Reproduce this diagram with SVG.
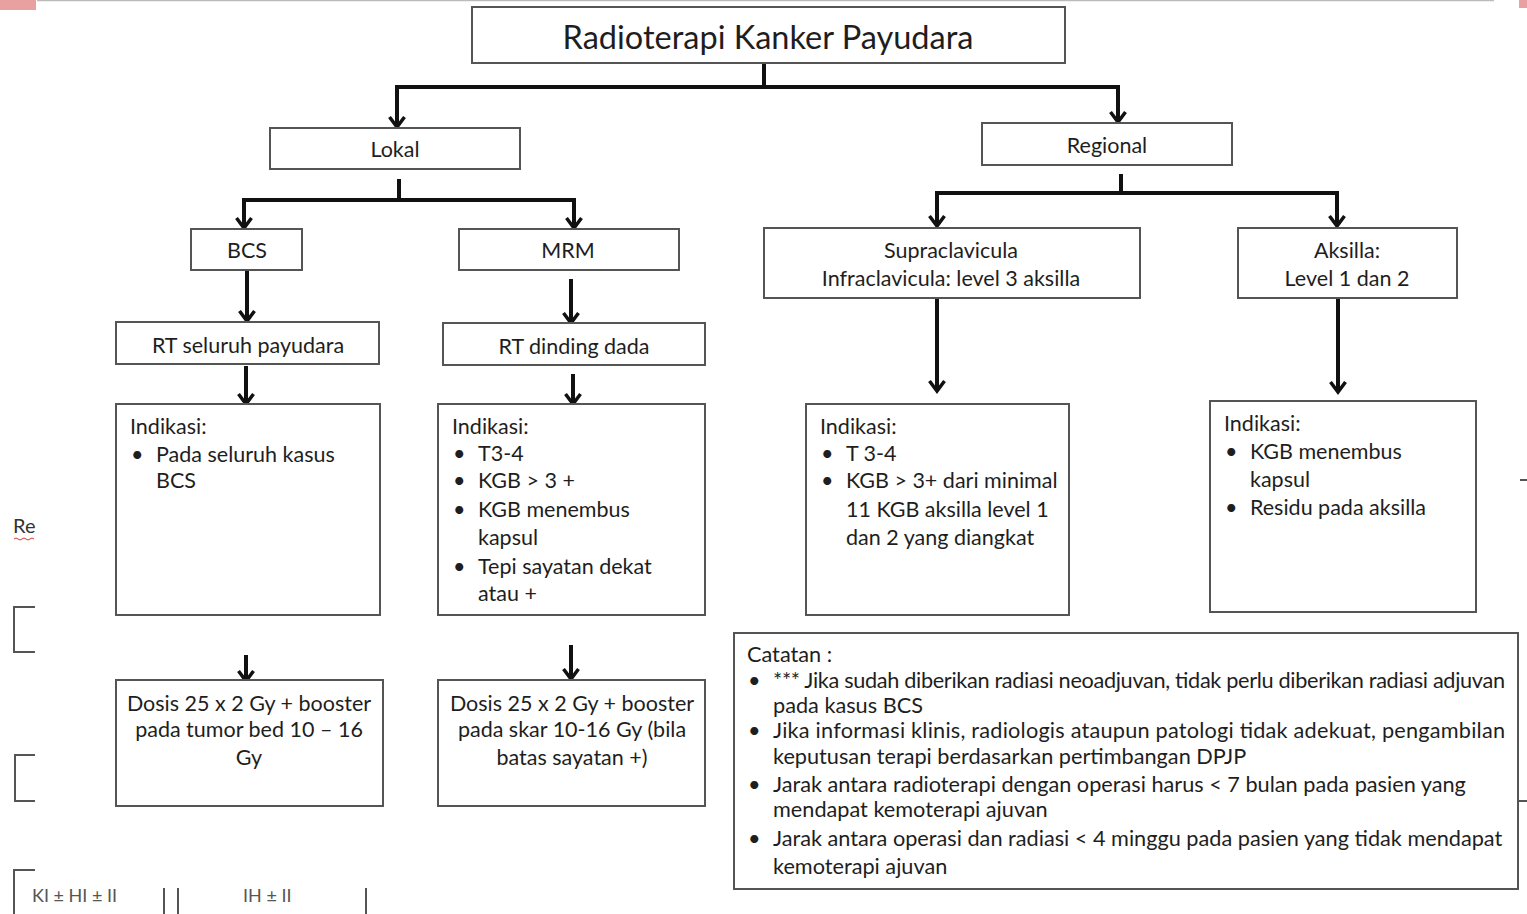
<svg xmlns="http://www.w3.org/2000/svg" width="1527" height="914" viewBox="0 0 1527 914">
<defs>
<marker id="arr" markerUnits="userSpaceOnUse" viewBox="0 0 20 20" refX="13" refY="10" markerWidth="20" markerHeight="20" orient="auto">
<path d="M3,2.5 L13,10 L3,17.5" fill="none" stroke="#111" stroke-width="3.5" stroke-linejoin="miter"/>
</marker>
</defs>
<style>
.box{fill:#fff;stroke:#555;stroke-width:2}
.t{font-family:Lato,"Open Sans","Liberation Sans",sans-serif;fill:#1e1e1e;font-size:21.5px}
.c{text-anchor:middle}
.n{font-family:Lato,"Open Sans","Liberation Sans",sans-serif;fill:#1e1e1e;font-size:21.7px}
.con{fill:none;stroke:#111;stroke-width:4}
.art{fill:none;stroke:#555;stroke-width:2}
</style>
<rect width="1527" height="914" fill="#fff"/>

<g id="artifacts">
<rect x="0" y="0" width="36" height="10" fill="#e8a0a0"/>
<rect x="1519" y="0" width="8" height="8" fill="#e8a0a0"/>
<line x1="37" y1="0.5" x2="1494" y2="0.5" stroke="#bbb" stroke-width="1.5"/>
<text x="13" y="533" font-family="Lato,'Open Sans',sans-serif" font-size="20" fill="#333">Re</text>
<path d="M14,539 q2,-2 4,0 t4,0 t4,0 t4,0 t4,0" fill="none" stroke="#d33" stroke-width="1"/>
<path class="art" d="M35,607 H14 V652 H35"/>
<path class="art" d="M35,755 H15 V801 H35"/>
<path class="art" d="M35,870 H14 V914"/>
<path class="art" d="M164,888 V914 M178,888 V914 M366,888 V914"/>
<text x="32" y="902" font-family="Lato,'Open Sans',sans-serif" font-size="18" fill="#555">KI ± HI ± II</text>
<text x="243" y="902" font-family="Lato,'Open Sans',sans-serif" font-size="18" fill="#555">IH ± II</text>
<path class="art" d="M1520,480 H1527 M1519,801 H1527"/>
</g>

<g id="connectors">
<path class="con" d="M764,63 V87 H397 V127" marker-end="url(#arr)"/>
<path class="con" d="M764,87 H1118 V122" marker-end="url(#arr)"/>
<path class="con" d="M399,179 V200 H244 V228" marker-end="url(#arr)"/>
<path class="con" d="M399,200 H574 V228" marker-end="url(#arr)"/>
<path class="con" d="M1121,174 V193 H937 V226" marker-end="url(#arr)"/>
<path class="con" d="M1121,193 H1337 V226" marker-end="url(#arr)"/>
<path class="con" d="M247,271 V321" marker-end="url(#arr)"/>
<path class="con" d="M571,279 V323" marker-end="url(#arr)"/>
<path class="con" d="M246,366 V404" marker-end="url(#arr)"/>
<path class="con" d="M573,374 V404" marker-end="url(#arr)"/>
<path class="con" d="M937,298 V391" marker-end="url(#arr)"/>
<path class="con" d="M1338,298 V392" marker-end="url(#arr)"/>
<path class="con" d="M246,655 V681" marker-end="url(#arr)"/>
<path class="con" d="M571,645 V679" marker-end="url(#arr)"/>
</g>

<g id="title">
<rect class="box" x="472" y="7" width="593" height="56"/>
<text class="t c" x="768" y="49" style="font-size:32.5px">Radioterapi Kanker Payudara</text>
</g>
<g id="lokal">
<rect class="box" x="270" y="128" width="250" height="41"/>
<text class="t c" x="395" y="157">Lokal</text>
</g>
<g id="regional">
<rect class="box" x="982" y="123" width="250" height="42"/>
<text class="t c" x="1107" y="153">Regional</text>
</g>
<g id="bcs">
<rect class="box" x="191" y="229" width="111" height="41"/>
<text class="t c" x="247" y="258">BCS</text>
</g>
<g id="mrm">
<rect class="box" x="459" y="229" width="220" height="41"/>
<text class="t c" x="568" y="258">MRM</text>
</g>
<g id="supraclavicula">
<rect class="box" x="764" y="228" width="376" height="70"/>
<text class="t c" x="951" y="258">Supraclavicula</text>
<text class="t c" x="951" y="286">Infraclavicula: level 3 aksilla</text>
</g>
<g id="aksilla">
<rect class="box" x="1238" y="228" width="219" height="70"/>
<text class="t c" x="1347" y="258">Aksilla:</text>
<text class="t c" x="1347" y="286">Level 1 dan 2</text>
</g>
<g id="rt-seluruh">
<rect class="box" x="116" y="322" width="263" height="42"/>
<text class="t c" x="248" y="353">RT seluruh payudara</text>
</g>
<g id="rt-dinding">
<rect class="box" x="443" y="323" width="262" height="42"/>
<text class="t c" x="574" y="354">RT dinding dada</text>
</g>

<g id="indikasi-bcs">
<rect class="box" x="116" y="404" width="264" height="211"/>
<text class="t" x="130" y="434">Indikasi:</text>
<text class="t" x="131" y="462">•</text>
<text class="t" x="156" y="462">Pada seluruh kasus</text>
<text class="t" x="156" y="488">BCS</text>
</g>
<g id="indikasi-mrm">
<rect class="box" x="438" y="404" width="267" height="211"/>
<text class="t" x="452" y="434">Indikasi:</text>
<text class="t" x="453" y="461">•</text><text class="t" x="478" y="461">T3-4</text>
<text class="t" x="453" y="488">•</text><text class="t" x="478" y="488">KGB &gt; 3 +</text>
<text class="t" x="453" y="517">•</text><text class="t" x="478" y="517">KGB menembus</text>
<text class="t" x="478" y="545">kapsul</text>
<text class="t" x="453" y="574">•</text><text class="t" x="478" y="574">Tepi sayatan dekat</text>
<text class="t" x="478" y="601">atau +</text>
</g>
<g id="indikasi-supra">
<rect class="box" x="806" y="404" width="263" height="211"/>
<text class="t" x="820" y="434">Indikasi:</text>
<text class="t" x="821" y="461">•</text><text class="t" x="846" y="461">T 3-4</text>
<text class="t" x="821" y="488">•</text><text class="t" x="846" y="488">KGB &gt; 3+ dari minimal</text>
<text class="t" x="846" y="517">11 KGB aksilla level 1</text>
<text class="t" x="846" y="545">dan 2 yang diangkat</text>
</g>
<g id="indikasi-aksilla">
<rect class="box" x="1210" y="401" width="266" height="211"/>
<text class="t" x="1224" y="431">Indikasi:</text>
<text class="t" x="1225" y="459">•</text><text class="t" x="1250" y="459">KGB menembus</text>
<text class="t" x="1250" y="487">kapsul</text>
<text class="t" x="1225" y="515">•</text><text class="t" x="1250" y="515">Residu pada aksilla</text>
</g>

<g id="dosis-bcs">
<rect class="box" x="116" y="680" width="267" height="126"/>
<text class="t c" x="249" y="711">Dosis 25 x 2 Gy + booster</text>
<text class="t c" x="249" y="737">pada tumor bed 10 – 16</text>
<text class="t c" x="249" y="765">Gy</text>
</g>
<g id="dosis-mrm">
<rect class="box" x="438" y="680" width="267" height="126"/>
<text class="t c" x="572" y="711">Dosis 25 x 2 Gy + booster</text>
<text class="t c" x="572" y="737">pada skar 10-16 Gy (bila</text>
<text class="t c" x="572" y="765">batas sayatan +)</text>
</g>

<g id="catatan">
<rect class="box" x="734" y="633" width="784" height="256"/>
<text class="n" x="747" y="662">Catatan :</text>
<text class="n" x="748" y="688">•</text>
<text class="n" x="773" y="688" textLength="732" lengthAdjust="spacing">*** Jika sudah diberikan radiasi neoadjuvan, tidak perlu diberikan radiasi adjuvan</text>
<text class="n" x="773" y="713">pada kasus BCS</text>
<text class="n" x="748" y="738">•</text>
<text class="n" x="773" y="738" textLength="732" lengthAdjust="spacing">Jika informasi klinis, radiologis ataupun patologi tidak adekuat, pengambilan</text>
<text class="n" x="773" y="764">keputusan terapi berdasarkan pertimbangan DPJP</text>
<text class="n" x="748" y="792">•</text>
<text class="n" x="773" y="792">Jarak antara radioterapi dengan operasi harus  &lt; 7 bulan pada pasien yang</text>
<text class="n" x="773" y="817">mendapat kemoterapi ajuvan</text>
<text class="n" x="748" y="846">•</text>
<text class="n" x="773" y="846">Jarak antara operasi dan radiasi &lt; 4 minggu pada pasien yang tidak mendapat</text>
<text class="n" x="773" y="874">kemoterapi ajuvan</text>
</g>
</svg>
